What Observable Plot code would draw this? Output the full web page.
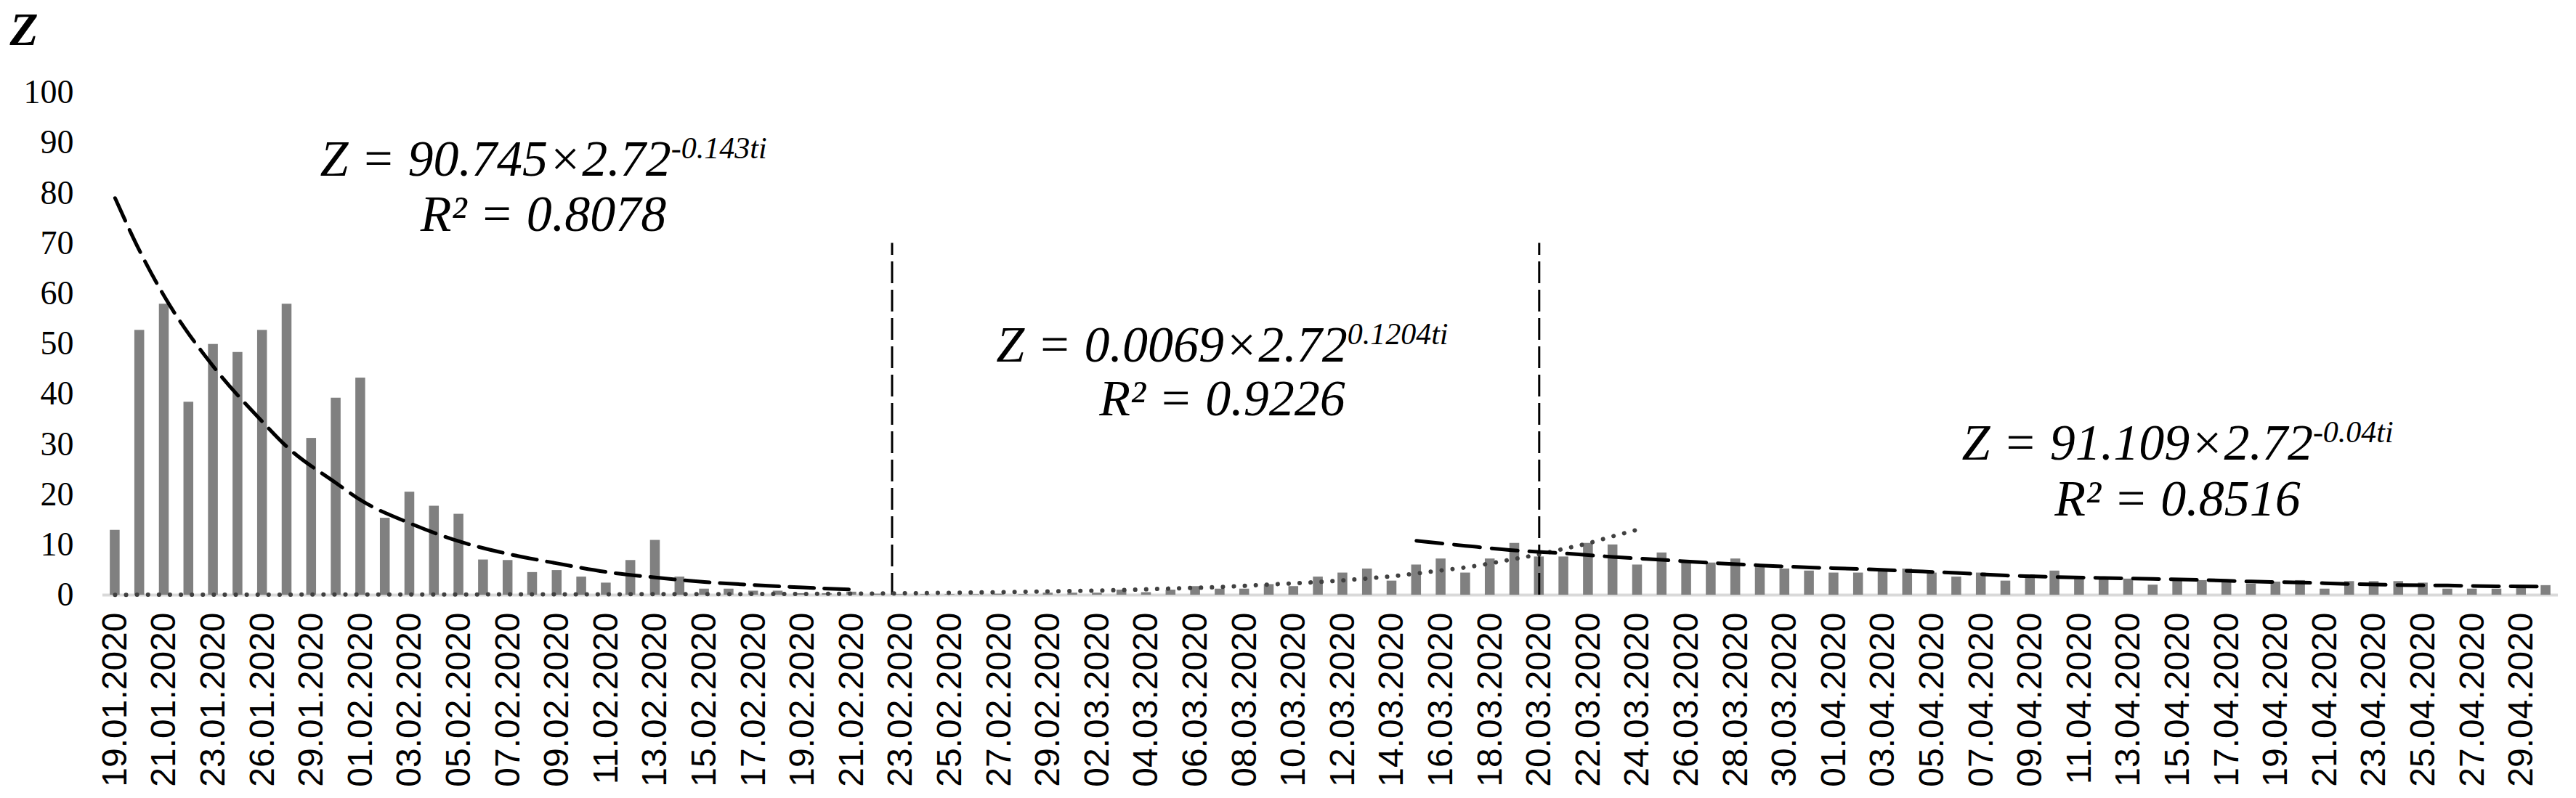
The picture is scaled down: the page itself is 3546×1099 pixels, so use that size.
<!DOCTYPE html>
<html>
<head>
<meta charset="utf-8">
<script src="https://cdn.jsdelivr.net/npm/d3@7"></script>
<script src="https://cdn.jsdelivr.net/npm/@observablehq/plot@0.6"></script>
<style>
  html, body { margin: 0; padding: 0; background: #ffffff; }
  #chart svg { display: block; }
</style>
</head>
<body>
<div id="chart"></div>
<script>
// ---------- data ----------
const categories = [
  "19.01.2020","20.01.2020","21.01.2020","22.01.2020","23.01.2020","24.01.2020","26.01.2020","27.01.2020","29.01.2020","30.01.2020",
  "01.02.2020","02.02.2020","03.02.2020","04.02.2020","05.02.2020","06.02.2020","07.02.2020","08.02.2020","09.02.2020","10.02.2020",
  "11.02.2020","12.02.2020","13.02.2020","14.02.2020","15.02.2020","16.02.2020","17.02.2020","18.02.2020","19.02.2020","20.02.2020",
  "21.02.2020","22.02.2020","23.02.2020","24.02.2020","25.02.2020","26.02.2020","27.02.2020","28.02.2020","29.02.2020",
  "01.03.2020","02.03.2020","03.03.2020","04.03.2020","05.03.2020","06.03.2020","07.03.2020","08.03.2020","09.03.2020","10.03.2020",
  "11.03.2020","12.03.2020","13.03.2020","14.03.2020","15.03.2020","16.03.2020","17.03.2020","18.03.2020","19.03.2020","20.03.2020",
  "21.03.2020","22.03.2020","23.03.2020","24.03.2020","25.03.2020","26.03.2020","27.03.2020","28.03.2020","29.03.2020","30.03.2020","31.03.2020",
  "01.04.2020","02.04.2020","03.04.2020","04.04.2020","05.04.2020","06.04.2020","07.04.2020","08.04.2020","09.04.2020","10.04.2020",
  "11.04.2020","12.04.2020","13.04.2020","14.04.2020","15.04.2020","16.04.2020","17.04.2020","18.04.2020","19.04.2020","20.04.2020",
  "21.04.2020","22.04.2020","23.04.2020","24.04.2020","25.04.2020","26.04.2020","27.04.2020","28.04.2020","29.04.2020","30.04.2020"
];

const zValues = [
  12.9, 52.7, 57.9, 38.4, 49.9, 48.3, 52.7, 57.9, 31.2, 39.2,
  43.2, 15.3, 20.5, 17.7, 16.1, 7.0, 6.9, 4.5, 4.9, 3.6,
  2.4, 6.9, 10.9, 3.6, 1.2, 1.2, 0.8, 0.8, 0.3, 0.3,
  0.6, 0.2, 0.1, 0.1, 0.1, 0.1, 0.2, 0.1, 0.4, 0.4,
  0.4, 1.0, 0.5, 1.0, 1.7, 1.2, 1.2, 2.1, 1.7, 3.6,
  4.4, 5.2, 2.8, 6.0, 7.2, 4.4, 7.2, 10.3, 7.6, 7.6,
  10.3, 10.0, 6.0, 8.4, 6.4, 6.4, 7.2, 6.0, 5.2, 4.8,
  4.4, 4.4, 5.2, 5.2, 4.4, 3.6, 4.4, 2.8, 4.0, 4.8,
  3.2, 3.2, 3.2, 2.0, 2.9, 2.9, 2.9, 2.2, 2.6, 2.9,
  1.2, 2.7, 2.7, 2.7, 2.4, 1.2, 1.2, 1.2, 1.9, 1.9
];

const xTickLabels = [
  "19.01.2020","21.01.2020","23.01.2020","26.01.2020","29.01.2020","01.02.2020","03.02.2020","05.02.2020","07.02.2020","09.02.2020",
  "11.02.2020","13.02.2020","15.02.2020","17.02.2020","19.02.2020","21.02.2020","23.02.2020","25.02.2020","27.02.2020","29.02.2020",
  "02.03.2020","04.03.2020","06.03.2020","08.03.2020","10.03.2020","12.03.2020","14.03.2020","16.03.2020","18.03.2020","20.03.2020",
  "22.03.2020","24.03.2020","26.03.2020","28.03.2020","30.03.2020","01.04.2020","03.04.2020","05.04.2020","07.04.2020","09.04.2020",
  "11.04.2020","13.04.2020","15.04.2020","17.04.2020","19.04.2020","21.04.2020","23.04.2020","25.04.2020","27.04.2020","29.04.2020"
];

const yTicks = [0, 10, 20, 30, 40, 50, 60, 70, 80, 90, 100];

// trend 1: Z = 90.745×2.72^-0.143ti (dashed)
const trend1Dates = ["19.01.2020","20.01.2020","21.01.2020","23.01.2020","26.01.2020","27.01.2020","30.01.2020","01.02.2020","03.02.2020",
  "05.02.2020","07.02.2020","09.02.2020","11.02.2020","13.02.2020","15.02.2020","17.02.2020","19.02.2020","21.02.2020"];
const trend1Z = [79, 68.5, 59.5, 45.5, 34.5, 29.5, 22.3, 18.9, 14.3, 10.7, 8.2, 6.3, 4.6, 3.5, 2.6, 2.0, 1.5, 1.1];

// trend 2: Z = 0.0069×2.72^0.1204ti (dotted)
const trend2Dates = ["19.01.2020","30.01.2020","10.02.2020","20.02.2020","25.02.2020","01.03.2020","03.03.2020","05.03.2020","07.03.2020",
  "09.03.2020","11.03.2020","13.03.2020","14.03.2020","15.03.2020","16.03.2020","17.03.2020","18.03.2020","19.03.2020","20.03.2020",
  "21.03.2020","22.03.2020","23.03.2020","24.03.2020"];
const trend2Z = [0.05, 0.1, 0.15, 0.25, 0.45, 0.8, 1.0, 1.3, 1.6, 2.1, 2.6, 3.3, 3.75, 4.3, 4.9, 5.5, 6.3, 7.2, 8.1, 9.2, 10.3, 11.7, 13.0];

// trend 3: Z = 91.109×2.72^-0.04ti (dashed)
const trend3Dates = ["15.03.2020","17.03.2020","19.03.2020","21.03.2020","23.03.2020","25.03.2020","27.03.2020","29.03.2020","31.03.2020",
  "02.04.2020","04.04.2020","06.04.2020","08.04.2020","10.04.2020","12.04.2020","14.04.2020","16.04.2020","18.04.2020","20.04.2020",
  "22.04.2020","24.04.2020","26.04.2020","28.04.2020","30.04.2020"];
const trend3Z = [10.8, 9.8, 8.9, 8.3, 7.6, 7.0, 6.4, 5.9, 5.5, 5.2, 4.8, 4.4, 3.9, 3.6, 3.4, 3.2, 3.0, 2.7, 2.5, 2.2, 2.0, 1.9, 1.75, 1.7];

// period separators
const splitDates = ["23.02.2020", "20.03.2020"];
const splitTop = 70;

// annotations
const eqTexts = ["Z = 90.745×2.72^-0.143ti", "Z = 0.0069×2.72^0.1204ti", "Z = 91.109×2.72^-0.04ti"];
const r2Texts = ["R² = 0.8078", "R² = 0.9226", "R² = 0.8516"];
const annDates = ["08.02.2020", "07.03.2020", "15.04.2020"];
const eqY = [83.4, 46.5, 26.9];
const r2Y = [72.5, 35.7, 15.8];
const axisTitle = "Z";

// ---------- chart ----------
const serif = "'Liberation Serif', 'Times New Roman', serif";
const sans = "'Liberation Sans', Arial, sans-serif";

const annShift = [15, 3, 0];
const annMarks = [];
eqTexts.forEach((t, i) => {
  annMarks.push(Plot.text([t], {
    x: [annDates[i]], y: [eqY[i]], text: d => d, dx: annShift[i],
    textAnchor: "middle", lineAnchor: "bottom",
    fontFamily: serif, fontStyle: "italic", fontSize: 70, fill: "#000"
  }));
  annMarks.push(Plot.text([r2Texts[i]], {
    x: [annDates[i]], y: [r2Y[i]], text: d => d, dx: annShift[i],
    textAnchor: "middle", lineAnchor: "bottom",
    fontFamily: serif, fontStyle: "italic", fontSize: 70, fill: "#000"
  }));
});

const splitShift = [-12, 0];
const splitMarks = splitDates.map((s, i) =>
  Plot.ruleX([s], { x: d => d, y1: 0, y2: splitTop, dx: splitShift[i], stroke: "#000", strokeWidth: 3, strokeDasharray: "30,9" })
);

const chart = Plot.plot({
  width: 3546,
  height: 1099,
  marginLeft: 141,
  marginRight: 25,
  marginTop: 127,
  marginBottom: 280,
  style: { background: "#ffffff", color: "#000000" },
  x: { type: "band", domain: categories, paddingInner: 0.6, paddingOuter: 0.3 },
  y: { domain: [0, 100] },
  marks: [
    Plot.axisY({ ticks: yTicks, tickSize: 0, tickPadding: 40, fontSize: 46, fontFamily: serif, label: null, fill: "#000" }),
    Plot.axisX({ ticks: xTickLabels, tickSize: 0, tickPadding: 24, tickRotate: -90, fontSize: 48, fontFamily: sans, label: null, fill: "#000" }),
    Plot.ruleY([0], { stroke: "#d9d9d9", strokeWidth: 4 }),
    Plot.barY(zValues, { x: categories, y: zValues, fill: "#808080" }),
    ...splitMarks,
    Plot.line(trend2Z, { x: trend2Dates, y: trend2Z, curve: "monotone-x", stroke: "#404040", strokeWidth: 6, strokeDasharray: "0.1,15", strokeLinecap: "round" }),
    Plot.line(trend1Z, { x: trend1Dates, y: trend1Z, curve: "monotone-x", stroke: "#000", strokeWidth: 5, strokeDasharray: "34,14" }),
    Plot.line(trend3Z, { x: trend3Dates, y: trend3Z, curve: "monotone-x", stroke: "#000", strokeWidth: 5, strokeDasharray: "36,16" }),
    ...annMarks,
    Plot.text([axisTitle], {
      frameAnchor: "top-left", text: d => d, dx: -128, dy: -66,
      textAnchor: "start", lineAnchor: "bottom",
      fontFamily: serif, fontStyle: "italic", fontWeight: "bold", fontSize: 64, fill: "#000"
    })
  ]
});

// superscripts in equation strings: "base^exp"
d3.select(chart).selectAll("text").each(function () {
  const el = this;
  const txt = el.textContent;
  if (el.children.length === 0 && txt.includes("^")) {
    const [base, sup] = txt.split("^");
    el.textContent = base;
    d3.select(el).append("tspan")
      .attr("dy", "-24")
      .attr("font-size", 42)
      .text(sup);
  }
});

document.getElementById("chart").appendChild(chart);
</script>
</body>
</html>
